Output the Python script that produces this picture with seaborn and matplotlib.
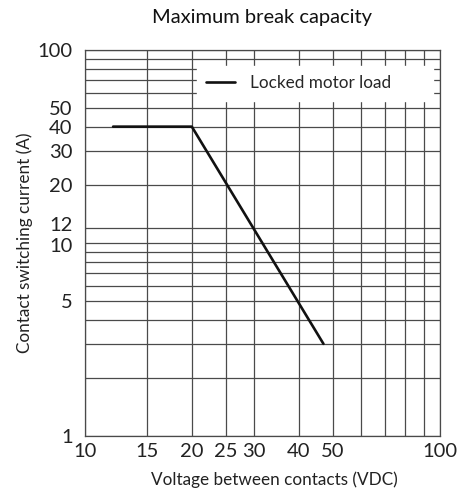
import numpy as np
import pandas as pd
import matplotlib
matplotlib.use("Agg")
import matplotlib.pyplot as plt
import matplotlib.transforms as mtransforms
import seaborn as sns
from matplotlib.ticker import FixedLocator, FixedFormatter, NullFormatter

# Data
voltage = [12, 20, 47]          # VDC
current = [40, 40, 3]           # A
series_name = "Locked motor load"

x_ticks = [10, 15, 20, 25, 30, 40, 50, 100]
y_ticks = [1, 5, 10, 12, 20, 30, 40, 50, 100]
x_grid = [10, 15, 20, 25, 30, 40, 50, 60, 70, 80, 90, 100]
y_grid = [1, 2, 3, 4, 5, 6, 7, 8, 9, 10, 12, 20, 30, 40, 50, 60, 70, 80, 90, 100]

sns.set_theme(style="white")
plt.rcParams['font.family'] = ['Lato', 'DejaVu Sans']

df = pd.DataFrame({"Voltage": voltage, "Current": current, "Series": series_name})

fig = plt.figure(figsize=(4.62, 4.98), dpi=100)
ax = fig.add_axes([0.184, 0.1245, 0.768, 0.7755])

sns.lineplot(data=df, x="Voltage", y="Current", hue="Series", palette=["#111111"],
             linewidth=1.9, ax=ax, sort=False, zorder=3)

ax.set_xscale("log")
ax.set_yscale("log")
ax.set_xlim(10, 100)
ax.set_ylim(1, 100)

ax.xaxis.set_major_locator(FixedLocator(x_ticks))
ax.xaxis.set_major_formatter(FixedFormatter([str(v) for v in x_ticks]))
ax.xaxis.set_minor_locator(FixedLocator(x_grid))
ax.xaxis.set_minor_formatter(NullFormatter())
ax.yaxis.set_major_locator(FixedLocator(y_ticks))
ax.yaxis.set_major_formatter(FixedFormatter([str(v) for v in y_ticks]))
ax.yaxis.set_minor_locator(FixedLocator(y_grid))
ax.yaxis.set_minor_formatter(NullFormatter())

ax.grid(which="minor", color="#4a4a4a", linewidth=0.9)
ax.grid(which="major", color="#4a4a4a", linewidth=0.9)
ax.set_axisbelow(True)

for s in ax.spines.values():
    s.set_color("#4a4a4a")
    s.set_linewidth(0.9)

ax.tick_params(axis="both", which="both", length=0, labelsize=14.5, colors="#222222")
ax.tick_params(axis="y", pad=9)
ax.tick_params(axis="x", pad=5)

# nudge crowded tick labels a little apart
fig.canvas.draw()
for lbl in ax.get_yticklabels():
    if lbl.get_text() == "12":
        lbl.set_transform(lbl.get_transform() + mtransforms.ScaledTranslation(0, 4/100, fig.dpi_scale_trans))
    if lbl.get_text() == "10":
        lbl.set_transform(lbl.get_transform() + mtransforms.ScaledTranslation(0, -2/100, fig.dpi_scale_trans))

ax.set_xlabel("Voltage between contacts (VDC)", fontsize=12.3, color="#222222", labelpad=8)
ax.xaxis.label.set_x(0.535)
ax.set_ylabel("Contact switching current (A)", fontsize=12.3, color="#222222", labelpad=3)
ax.set_title("Maximum break capacity", fontsize=14.5, color="#111111", pad=19)

leg = ax.legend(loc="upper left", bbox_to_anchor=(0.3155, 0.958, 0.665, 0.0), mode="expand",
                frameon=True, fontsize=12.3, handlelength=1.7, handletextpad=0.85,
                borderpad=0.55, borderaxespad=0.0, framealpha=1)
leg.get_frame().set_facecolor("white")
leg.get_frame().set_edgecolor("white")
leg.get_frame().set_boxstyle("square", pad=0.0)

fig.savefig("out.png", dpi=100)
